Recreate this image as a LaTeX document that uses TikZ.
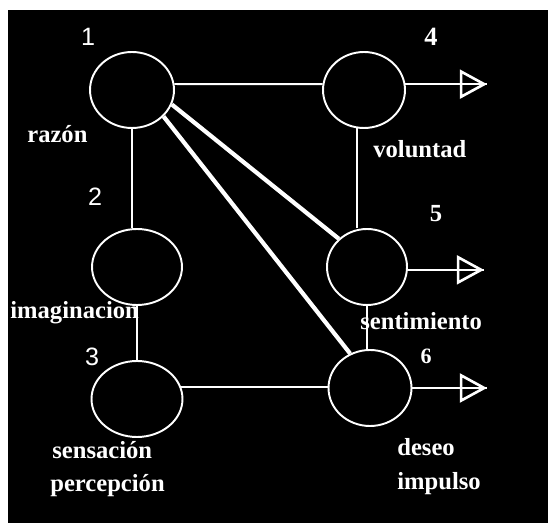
\documentclass[tikz,border=0pt]{standalone}
\usepackage{fontspec}
\setmainfont{Liberation Serif}
\setsansfont{Liberation Sans}
\usetikzlibrary{arrows.meta,shapes.geometric}

\begin{document}
\begin{tikzpicture}[x=0.02cm, y=-0.02cm,
    every node/.style={text=white, inner sep=0pt},
    fac/.style={draw=white, ellipse, line width=1.1pt, minimum height=1.52cm},
    lbl/.style={anchor=base west, font=\fontsize{14}{16}\selectfont\bfseries},
    wire/.style={white, line width=1.1pt},
    strong/.style={white, line width=2.4pt},
    outarrow/.style={white, line width=1.1pt, -{Triangle[open, length=15.5pt, width=16.5pt, line width=1.5pt]}, postaction={draw, -}}]
    \useasboundingbox (0,0) rectangle (548,523);
    \fill[black] (8,10) rectangle (548,523);
    % facultades
    \node[fac, minimum width=1.68cm] (f1) at (132, 90) {};
    \node[fac, minimum width=1.80cm] (f2) at (137,267) {};
    \node[fac, minimum width=1.82cm] (f3) at (137,399) {};
    \node[fac, minimum width=1.64cm] (f4) at (364, 90) {};
    \node[fac, minimum width=1.60cm] (f5) at (367,267) {};
    \node[fac, minimum width=1.66cm] (f6) at (370,388) {};
    \coordinate (o4) at (487, 85);
    \coordinate (o5) at (484,270);
    \coordinate (o6) at (487,388);
    % numeros
    \node[font=\sffamily\fontsize{14.3}{16}\selectfont] (k1) at (88, 37) {1};
    \node[font=\sffamily\fontsize{14.3}{16}\selectfont] (k2) at (95,197) {2};
    \node[font=\sffamily\fontsize{14.3}{16}\selectfont] (k3) at (92,357) {3};
    \node[font=\fontsize{15}{16}\selectfont\bfseries] (k4) at (431, 37) {4};
    \node[font=\fontsize{14}{16}\selectfont\bfseries] (k5) at (436,214) {5};
    \node[font=\fontsize{12.5}{14}\selectfont\bfseries] (k6) at (426,356) {6};
    % nombres
    \node[lbl] (t1) at (27,143) {razón};
    \node[lbl] (t2) at (10,319) {imaginacion};
    \node[lbl] (t3a) at (52,459) {sensación};
    \node[lbl] (t3b) at (50,492) {percepción};
    \node[lbl] (t4) at (373,158) {voluntad};
    \node[lbl] (t5) at (360,330) {sentimiento};
    \node[lbl] (t6a) at (397,456) {deseo};
    \node[lbl] (t6b) at (397,490) {impulso};
    % conexiones
    \draw[wire] (f1.8) -- (f4.172);
    \draw[wire] (f1.south) -- (f1.south |- f2.north);
    \draw[wire] (f2.south) -- (f2.south |- f3.north);
    \draw[wire] (f4.-100) -- (f4.-100 |- f5.north);
    \draw[wire] (f5.south) -- (f5.south |- f6.north);
    \draw[wire] (f3.15) -- (f3.15 -| f6.west);
    \draw[strong] (f1.-20) -- (f5.135);
    \draw[strong] (f1.-40) -- (f6.120);
    \draw[outarrow] (f4.8) -- (f4.8 -| o4);
    \draw[outarrow] (f5.-4) -- (f5.-4 -| o5);
    \draw[outarrow] (f6.east) -- (o6);
\end{tikzpicture}
\end{document}
